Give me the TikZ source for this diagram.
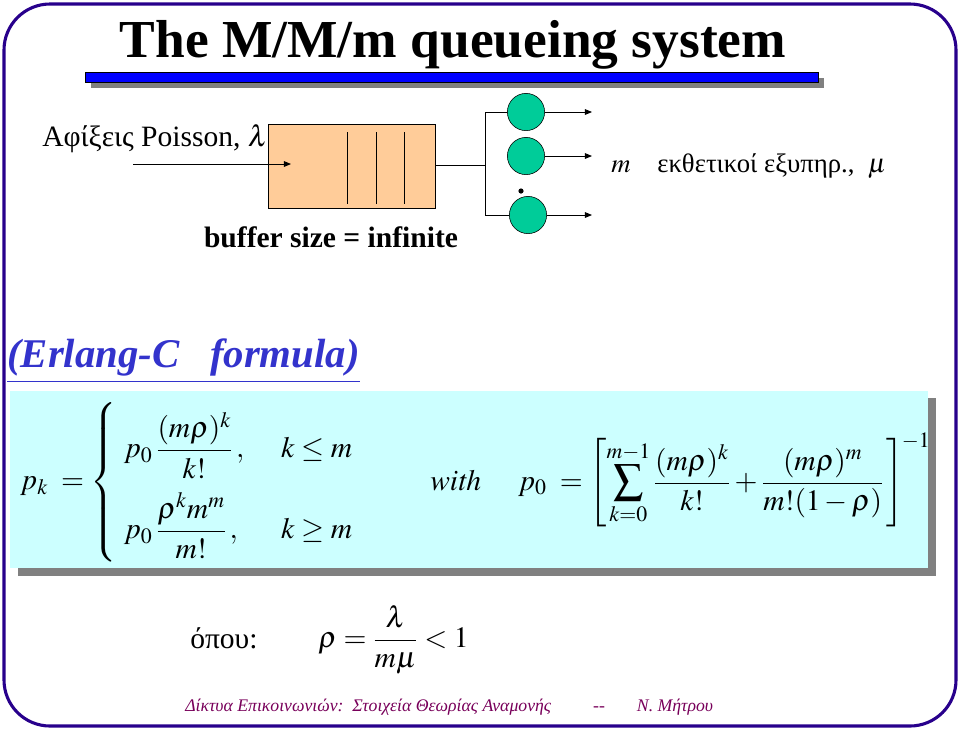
\documentclass[tikz,border=0pt]{standalone}
\usepackage{amsmath}
\usepackage{mathptmx}
\usepackage[no-math]{fontspec}
\setmainfont{Liberation Serif}
\usepackage{tikz}
\usetikzlibrary{arrows.meta, positioning, shapes.geometric}
\definecolor{framepurple}{RGB}{40,0,140}
\definecolor{barblue}{RGB}{0,0,255}
\definecolor{shadowgray}{RGB}{128,128,128}
\definecolor{bufpeach}{RGB}{255,204,153}
\definecolor{servgreen}{RGB}{0,204,153}
\definecolor{lightcyan}{RGB}{204,255,255}
\definecolor{erlangblue}{RGB}{51,51,204}
\definecolor{footmagenta}{RGB}{120,0,90}

\begin{document}
\begin{tikzpicture}[
  x=0.025cm, y=-0.025cm,
  serv/.style={circle, draw=black, fill=servgreen, minimum size=0.93cm, inner sep=0pt},
  arrow/.style={-{Triangle[length=5pt,width=4pt]}, line width=0.6pt},
  wire/.style={line width=0.6pt},
  txt/.style={inner sep=0pt, font=\fontsize{21}{24}\selectfont},
  eq/.style={inner sep=0pt, font=\fontsize{21}{25}\selectfont}
]
\useasboundingbox (0,0) rectangle (960,733);
\draw[framepurple, line width=2.2pt, rounded corners=1.15cm] (4,4) rectangle (956,726);

\node[inner sep=0pt, font=\fontsize{38}{42}\selectfont\bfseries] (title) at (453,45) {The M/M/m queueing system};
\fill[shadowgray] (91,78) rectangle (824,88);
\draw[black, fill=barblue, line width=0.5pt] (85,72) rectangle (818,82);

\node[rectangle, draw=black, fill=bufpeach, line width=0.6pt, minimum width=4.175cm, minimum height=2.1cm, inner sep=0pt] (buf) at (351.5,166) {};
\foreach \lx in {347,376,404}
  \draw[wire] (\lx,132) -- (\lx,204);
\node[txt, anchor=base west] (arrlbl) at (42,146) {Αφίξεις Poisson, $\lambda$};
\coordinate (src) at (133,164);
\coordinate (in) at (291,164);
\draw[arrow] (src) -- (in);

\node[serv] (s1) at (526,112) {};
\node[serv] (s2) at (526,156) {};
\node[serv] (s3) at (528,215) {};
\coordinate (jn) at (485,165);
\coordinate (jtop) at (485,112);
\coordinate (jbot) at (485,215);
\draw[wire] (buf.east |- jn) -- (jn);
\draw[wire] (s1.west) -- (jtop) -- (jbot) -- (s3.west);
\fill (521,191) circle (2.6);
\coordinate (o1) at (592,112);
\coordinate (o2) at (592,156);
\coordinate (o3) at (592,215);
\draw[arrow] (s1.east) -- (o1);
\draw[arrow] (s2.east) -- (o2);
\draw[arrow] (s3.east) -- (o3);
\node[txt, font=\fontsize{19}{22}\selectfont, anchor=base west] (servlbl) at (611,172) {$m$\quad εκθετικοί εξυπηρ.,\ \ $\mu$};

\node[txt, font=\fontsize{21}{24}\selectfont\bfseries, anchor=base] (bufsize) at (331,247) {buffer size = infinite};

\node[inner sep=0pt, anchor=base west, text=erlangblue, font=\fontsize{29}{32}\selectfont\bfseries\itshape] (erlang) at (7,367) {\underline{(Erlang-C\ \ \ formula)}};

\fill[shadowgray] (18,398) rectangle (936,576);
\fill[lightcyan] (10,391) rectangle (928,568);

\node[eq, anchor=west] (pk) at (20,482) {$p_k \;=\left\{\renewcommand{\arraystretch}{2.3}\begin{array}{l@{\quad\ }l}
  p_0\,\dfrac{(m\rho)^k}{k!}\,, & k\le m\\
  p_0\,\dfrac{\rho^k m^m}{m!}\,, & k\ge m
\end{array}\right.$};
\node[eq, anchor=west] (p0) at (430,480) {$\displaystyle \mathit{with}\quad\ p_0 \;=\left[\sum_{k=0}^{m-1}\frac{(m\rho)^k}{k!}+\frac{(m\rho)^m}{m!(1-\rho)}\,\right]^{\!-1}$};

\node[txt, anchor=base west] (opou) at (190,648) {όπου:};
\node[eq, anchor=west] (rho) at (318,640) {$\rho = \dfrac{\lambda}{m\mu} < 1$};

\node[inner sep=0pt, anchor=base west, text=footmagenta, font=\fontsize{12.6}{15}\selectfont\itshape] (foot) at (185,711) {Δίκτυα Επικοινωνιών:\ \ Στοιχεία Θεωρίας Αναμονής\hspace{1.05cm}-{}-\hspace{0.8cm}Ν. Μήτρου};
\end{tikzpicture}
\end{document}
